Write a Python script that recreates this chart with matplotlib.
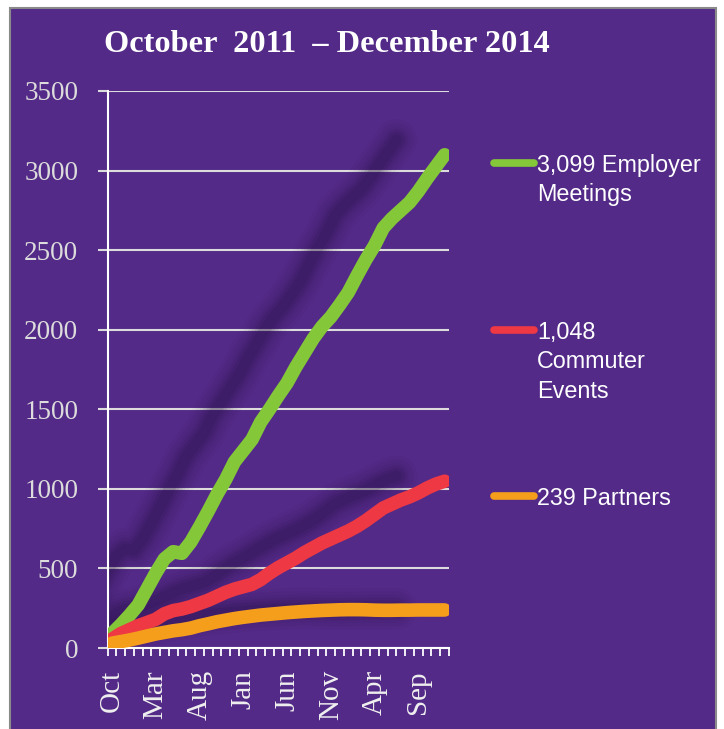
import matplotlib
matplotlib.use("Agg")
import matplotlib.pyplot as plt
import numpy as np
from matplotlib.lines import Line2D
from matplotlib.patches import Rectangle

# monthly cumulative counts, Oct 2011 .. Dec 2014 (39 months)
months = np.arange(39)
tick_positions = [0, 5, 10, 15, 20, 25, 30, 35]
tick_labels = ["Oct", "Mar", "Aug", "Jan", "Jun", "Nov", "Apr", "Sep"]

employer = [90, 145, 205, 270, 370, 470, 560, 605, 595, 665,
            760, 860, 965, 1060, 1170, 1240, 1310, 1420, 1500, 1585,
            1665, 1765, 1855, 1945, 2020, 2080, 2155, 2235, 2340, 2440,
            2530, 2640, 2700, 2750, 2800, 2870, 2950, 3025, 3099]
commuter = [55, 90, 115, 140, 160, 180, 215, 235, 245, 260,
            280, 300, 325, 350, 370, 385, 400, 430, 470, 505,
            535, 565, 600, 630, 660, 685, 710, 735, 765, 800,
            840, 880, 905, 930, 950, 975, 1005, 1030, 1048]
partners = [30, 40, 50, 62, 75, 88, 98, 108, 115, 125,
            140, 152, 165, 175, 185, 193, 200, 207, 212, 217,
            222, 226, 230, 233, 236, 238, 240, 241, 241, 240,
            238, 237, 237, 238, 238, 239, 239, 239, 239]

series = [employer, commuter, partners]
names = ["3,099 Employer\nMeetings", "1,048\nCommuter\nEvents", "239 Partners"]
colors = ["#84c83a", "#ee3843", "#f59e1c"]

PURPLE = "#532a87"
W, H = 724, 729

fig = plt.figure(figsize=(W / 100, H / 100), dpi=100, facecolor="white")
fig.patches.append(Rectangle((10 / W, -0.01), 706 / W, 1 - 8 / H + 0.01,
                             transform=fig.transFigure, facecolor=PURPLE,
                             edgecolor="#8a8a8a", lw=1.5, zorder=-10))

ax = fig.add_axes([107.5 / W, 1 - 648 / H, (449 - 107.5) / W, (648 - 91) / H])
ax.set_facecolor("none")
ax.set_zorder(2)

# soft drop shadows (stacked translucent strokes ~ blur)
for vals in series:
    xs = months - 5.5
    ys = np.array(vals) * 1.03
    for lw, a in [(30, 0.04), (25, 0.05), (20, 0.07), (16, 0.09),
                  (12, 0.11), (8, 0.13)]:
        ax.plot(xs, ys, color="#24103f", lw=lw, alpha=a,
                solid_capstyle="round", solid_joinstyle="round", zorder=1)

for vals, c in zip(series, colors):
    ax.plot(months, vals, color=c, lw=9.8, solid_capstyle="round",
            solid_joinstyle="round", zorder=3)

ax.set_xlim(-0.5, 38.5)
ax.set_ylim(0, 3500)
ax.set_yticks(range(0, 3501, 500))
ax.yaxis.grid(True, color="#dcdcdc", lw=1.5, zorder=0)
ax.set_axisbelow(True)

ax.set_xticks(np.arange(-0.5, 39, 1))
ax.set_xticks(tick_positions, minor=True)
ax.set_xticklabels([])
ax.set_xticklabels(tick_labels, minor=True, rotation=90)
ax.tick_params(axis="x", which="major", length=6, width=1.3, color="white")
ax.tick_params(axis="x", which="minor", length=0, pad=16,
               labelsize=21, labelcolor="#f0f0f0")
ax.tick_params(axis="y", length=7, width=1.5, color="#dcdcdc", pad=14,
               labelsize=19.5, labelcolor="#dcdcdc")
for lab in ax.get_xticklabels(minor=True) + ax.get_yticklabels():
    lab.set_family("Liberation Serif")

for s in ["top", "right"]:
    ax.spines[s].set_visible(False)
ax.spines["left"].set_color("white")
ax.spines["left"].set_linewidth(1.5)
ax.spines["bottom"].set_color("white")
ax.spines["bottom"].set_linewidth(1.5)

fig.text(327 / W, 1 - 45 / H, "October  2011  \u2013 December 2014",
         ha="center", va="center", color="white", fontsize=23.3,
         family="Liberation Serif", fontweight="bold")

# legend
handle_y = [163, 330, 496]
for name, c, hy in zip(names, colors, handle_y):
    fig.add_artist(Line2D([494 / W, 534 / W], [1 - hy / H, 1 - hy / H],
                          color=c, lw=5.5, solid_capstyle="round"))
    fig.text(537 / W, 1 - (hy - 9) / H, name, ha="left", va="top",
             color="white", fontsize=16.8, family="Liberation Sans",
             linespacing=1.35)

fig.savefig("out.png", dpi=100, facecolor=fig.get_facecolor())
